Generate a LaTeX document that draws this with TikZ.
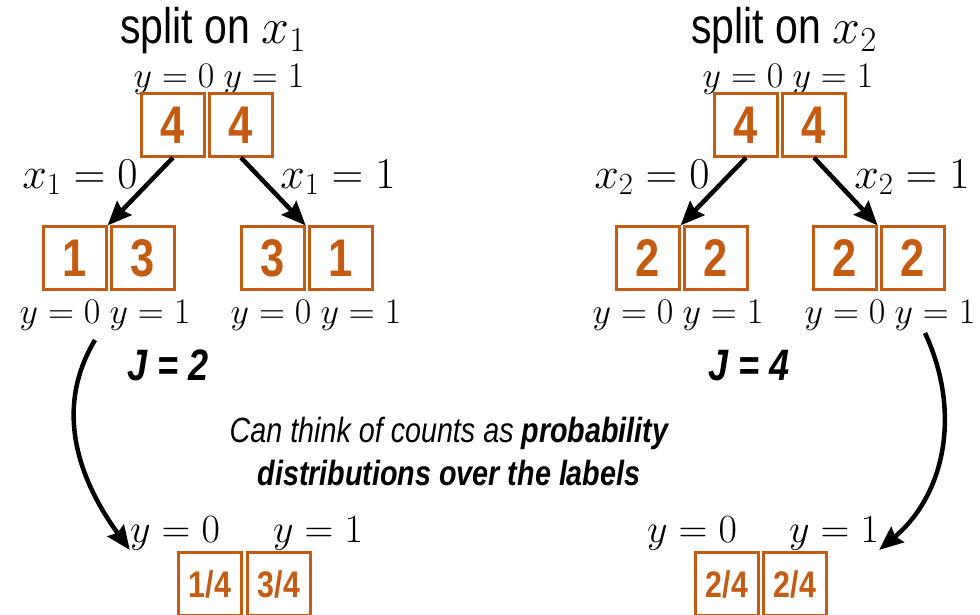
\RequirePackage{fix-cm}
\documentclass[tikz,border=0pt]{standalone}
\usepackage{fontspec}
\newfontfamily\narrow[FakeStretch=0.82]{Liberation Sans}
\definecolor{boxorange}{RGB}{197,90,17}
\usetikzlibrary{arrows.meta}
\newcommand{\fs}[1]{\fontsize{#1}{#1}\selectfont}

\begin{document}
\begin{tikzpicture}[x=1pt, y=-1pt,
      count/.style={draw=boxorange, line width=2.2pt, minimum size=63pt,
        inner sep=0pt, text=boxorange, font=\narrow\bfseries\fs{53}},
      prob/.style={count, font=\narrow\bfseries\fs{37}},
      ylab/.style={anchor=base, inner sep=0pt, font=\fs{36}},
      xlab/.style={anchor=base, inner sep=0pt, font=\fs{44}},
      title/.style={anchor=base, inner sep=0pt, font=\narrow\fs{50}},
      score/.style={anchor=base, inner sep=0pt, font=\narrow\bfseries\itshape\fs{44}},
      note/.style={anchor=base, inner sep=0pt, font=\narrow\itshape\fs{35}},
      split/.style={line width=4.5pt, -{Stealth[length=24pt, width=20pt, inset=3pt]}},
    ]
    \useasboundingbox (0,0) rectangle (980,615);

    % Split on x1
    \node[title] (title1) at (213,44) {split on $x_1$};
    \node[ylab] (top1) at (219,88) {$y=0$\hspace{9pt}$y=1$};
    \node[count] (r1a) at (173,125) {4};
    \node[count] (r1b) at (241,125) {4};
    \node[count] (c1a) at (75,258) {1};
    \node[count] (c1b) at (143,258) {3};
    \node[count] (c1c) at (273,258) {3};
    \node[count] (c1d) at (341,258) {1};
    \node[xlab] (e1a) at (80,188) {$x_1=0$};
    \node[xlab] (e1b) at (338,188) {$x_1=1$};
    \node[ylab] (lab1a) at (105,323) {$y=0$\hspace{9pt}$y=1$};
    \node[ylab] (lab1b) at (316,323) {$y=0$\hspace{9pt}$y=1$};
    \node[score] (j1) at (168,380) {J = 2};
    \draw[split] (r1a.south) -- (c1a.north east);
    \draw[split] (r1b.south) -- (c1c.north east);

    % Split on x2
    \node[title] (title2) at (784,44) {split on $x_2$};
    \node[ylab] (top2) at (788,88) {$y=0$\hspace{9pt}$y=1$};
    \node[count] (r2a) at (746,125) {4};
    \node[count] (r2b) at (814,125) {4};
    \node[count] (c2a) at (648,258) {2};
    \node[count] (c2b) at (716,258) {2};
    \node[count] (c2c) at (845,258) {2};
    \node[count] (c2d) at (913,258) {2};
    \node[xlab] (e2a) at (652,188) {$x_2=0$};
    \node[xlab] (e2b) at (912,188) {$x_2=1$};
    \node[ylab] (lab2a) at (678,323) {$y=0$\hspace{9pt}$y=1$};
    \node[ylab] (lab2b) at (890,323) {$y=0$\hspace{9pt}$y=1$};
    \node[score] (j2) at (749,380) {J = 4};
    \draw[split] (r2a.south) -- (c2a.north east);
    \draw[split] (r2b.south) -- (c2c.north east);

    % Note in the middle
    \node[note] (note1) at (449,442) {Can think of counts as \textbf{probability}};
    \node[note] (note2) at (449,485) {\textbf{distributions over the labels}};

    % Probabilities
    \node[ylab, font=\fs{40}] (b1a) at (175,542) {$y=0$};
    \node[ylab, font=\fs{40}] (b1b) at (318,542) {$y=1$};
    \node[prob] (p1a) at (210,584) {1/4};
    \node[prob] (p1b) at (279,584) {3/4};
    \node[ylab, font=\fs{40}] (b2a) at (692,542) {$y=0$};
    \node[ylab, font=\fs{40}] (b2b) at (834,542) {$y=1$};
    \node[prob] (p2a) at (727,584) {2/4};
    \node[prob] (p2b) at (795,584) {2/4};

    \coordinate (s1) at (95,340);
    \coordinate (s2) at (925,333);
    \draw[split] (s1) to[out=239, in=126] (b1a.south west);
    \draw[split] (s2) to[out=295, in=40] (b2b.south east);
  \end{tikzpicture}
\end{document}
